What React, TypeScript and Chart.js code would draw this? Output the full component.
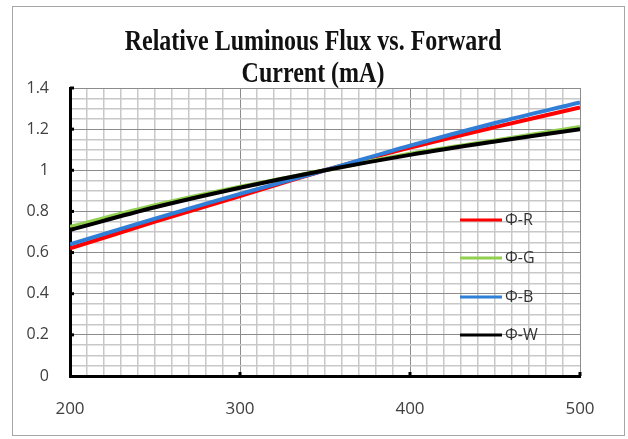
import React, { useEffect, useRef } from "react";
import { Chart, registerables } from "chart.js";

Chart.register(...registerables);

const currents = [200, 250, 300, 350, 400, 450, 500];
const fluxR = [0.62, 0.75, 0.875, 1.0, 1.11, 1.21, 1.305];
const fluxG = [0.725, 0.83, 0.92, 1.0, 1.08, 1.145, 1.21];
const fluxB = [0.64, 0.765, 0.885, 1.0, 1.12, 1.23, 1.33];
const fluxW = [0.71, 0.82, 0.915, 1.0, 1.075, 1.14, 1.2];
const seriesLabels = ["Φ-R", "Φ-G", "Φ-B", "Φ-W"];
const seriesColors = ["#ff0000", "#92d050", "#2f7ed8", "#000000"];
const titleLines = ["Relative Luminous Flux vs. Forward", "Current (mA)"];
const xMajorTicks = [200, 300, 400, 500];

const W = 628;
const H = 439;

const framePlugin = {
  id: "frame",
  beforeDraw(chart: any) {
    const ctx = chart.ctx;
    ctx.save();
    ctx.fillStyle = "#ffffff";
    ctx.fillRect(0, 0, W, H);
    ctx.strokeStyle = "#a6a6a6";
    ctx.lineWidth = 1;
    ctx.strokeRect(12.5, 6.5, 612, 429);
    ctx.restore();
  },
  afterDraw(chart: any) {
    const ctx = chart.ctx;
    const xs = chart.scales.x;
    const ys = chart.scales.y;
    const area = chart.chartArea;
    ctx.save();
    // title
    ctx.fillStyle = "#111111";
    ctx.font = "bold 24px 'Liberation Serif', 'Times New Roman', serif";
    ctx.textAlign = "center";
    ctx.textBaseline = "alphabetic";
    const baselines = [50, 82];
    titleLines.forEach((t, i) => {
      ctx.save();
      ctx.translate(313, baselines[i]);
      ctx.scale(1, 1.25);
      ctx.fillText(t, 0, 0);
      ctx.restore();
    });
    // inner tick nubs
    ctx.strokeStyle = "#000";
    ctx.lineWidth = 3;
    for (let v = 0.2; v <= 1.401; v += 0.2) {
      const y = ys.getPixelForValue(v);
      ctx.beginPath();
      ctx.moveTo(area.left, y);
      ctx.lineTo(area.left + 4, y);
      ctx.stroke();
    }
    xMajorTicks.slice(1).forEach((v) => {
      const x = xs.getPixelForValue(v);
      ctx.beginPath();
      ctx.moveTo(x, area.bottom);
      ctx.lineTo(x, area.bottom - 4);
      ctx.stroke();
    });
    // legend
    const legendY = [220, 258, 297, 335];
    ctx.font = "16px 'Open Sans', sans-serif";
    ctx.textAlign = "left";
    ctx.textBaseline = "middle";
    chart.data.datasets.forEach((ds: any, i: number) => {
      const y = legendY[i];
      ctx.strokeStyle = ds.borderColor;
      ctx.lineWidth = 3;
      ctx.beginPath();
      ctx.moveTo(460, y);
      ctx.lineTo(502, y);
      ctx.stroke();
      ctx.fillStyle = "#333333";
      ctx.fillText(ds.label, 505, y);
    });
    ctx.restore();
  },
};

export default function App() {
  const ref = useRef<HTMLCanvasElement | null>(null);

  useEffect(() => {
    document.body.style.margin = "0";
    if (!ref.current) return;
    const series = [fluxR, fluxG, fluxB, fluxW];
    const orders = [4, 3, 2, 1];
    const chart = new Chart(ref.current, {
      type: "line",
      data: {
        datasets: series.map((vals, i) => ({
          label: seriesLabels[i],
          data: currents.map((c, j) => ({ x: c, y: vals[j] })),
          borderColor: seriesColors[i],
          backgroundColor: seriesColors[i],
          borderWidth: 4,
          pointRadius: 0,
          tension: 0.35,
          fill: false,
          order: orders[i],
        })),
      },
      options: {
        responsive: false,
        animation: false,
        devicePixelRatio: 1,
        layout: { padding: { left: 0, right: 48, top: 88, bottom: 0 } },
        plugins: {
          legend: { display: false },
          title: { display: false },
          tooltip: { enabled: false },
        },
        scales: {
          x: {
            type: "linear",
            min: 200,
            max: 500,
            afterFit: (s: any) => {
              s.height = H - 376;
            },
            ticks: {
              stepSize: 10,
              autoSkip: false,
              maxRotation: 0,
              padding: 23,
              color: "#404040",
              font: { family: "'Open Sans', sans-serif", size: 17 },
              callback: (v: any) => (Math.round(v) % 100 === 0 ? String(Math.round(v)) : ""),
            },
            grid: {
              drawTicks: false,
              color: (c: any) => (Math.round(c.tick.value) % 100 === 0 ? "#8c8c8c" : "#c8c8c8"),
              lineWidth: (c: any) => (Math.round(c.tick.value) % 100 === 0 ? 1 : 1.5),
            },
            border: { color: "#000", width: 3 },
          },
          y: {
            min: 0,
            max: 1.4,
            afterFit: (s: any) => {
              s.width = 70;
            },
            ticks: {
              stepSize: 0.05,
              autoSkip: false,
              padding: 21,
              color: "#404040",
              font: { family: "'Open Sans', sans-serif", size: 16 },
              callback: (v: any) => {
                const k = Math.round(v * 100);
                return k % 20 === 0 ? String(Number((k / 100).toFixed(1))) : "";
              },
            },
            grid: {
              drawTicks: false,
              color: (c: any) => (Math.round(c.tick.value * 100) % 20 === 0 ? "#8c8c8c" : "#c8c8c8"),
              lineWidth: (c: any) => (Math.round(c.tick.value * 100) % 20 === 0 ? 1 : 1.5),
            },
            border: { color: "#000", width: 3 },
          },
        },
      },
      plugins: [framePlugin],
    });
    return () => chart.destroy();
  }, []);

  return (
    <div style={{ width: W, height: H }}>
      <canvas ref={ref} width={W} height={H} style={{ width: W, height: H, display: "block" }} />
    </div>
  );
}
